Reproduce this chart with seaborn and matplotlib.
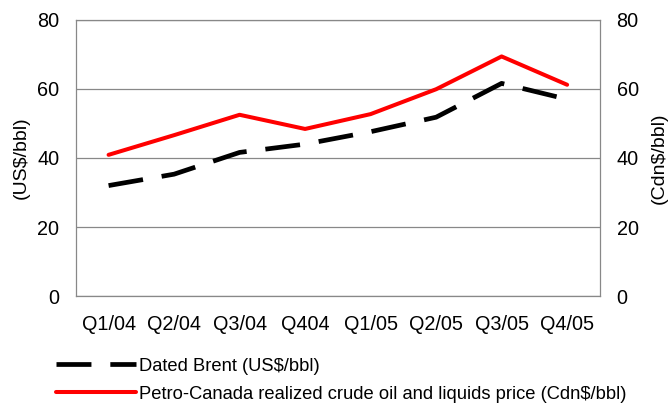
import matplotlib
matplotlib.use("Agg")
import matplotlib.pyplot as plt
import seaborn as sns
import pandas as pd

quarters = ["Q1/04", "Q2/04", "Q3/04", "Q404", "Q1/05", "Q2/05", "Q3/05", "Q4/05"]
brent = [32.0, 35.3, 41.6, 44.0, 47.6, 51.8, 61.6, 57.0]
petro = [40.9, 46.6, 52.5, 48.4, 52.7, 59.9, 69.4, 61.2]
brent_label = "Dated Brent (US$/bbl)"
petro_label = "Petro-Canada realized crude oil and liquids price (Cdn$/bbl)"

sns.set_theme(style="white")
plt.rcParams['font.family'] = ['Liberation Sans', 'DejaVu Sans']
plt.rcParams['text.color'] = 'black'
plt.rcParams['axes.labelcolor'] = 'black'

df = pd.DataFrame({"q": quarters, "x": range(len(quarters)), "brent": brent, "petro": petro})

fig = plt.figure(figsize=(6.71, 4.05), dpi=100)
ax = fig.add_axes([0.113, 0.269, 0.781, 0.682])

sns.lineplot(data=df, x="x", y="brent", ax=ax, color="black", linewidth=3.4,
             label=brent_label)
ax.lines[-1].set_dashes([7.4, 4.0])
sns.lineplot(data=df, x="x", y="petro", ax=ax, color="#ff0000", linewidth=2.9,
             label=petro_label)

ax.set_xlim(-0.5, len(quarters) - 0.5)
ax.set_ylim(0, 80)
ax.set_yticks([0, 20, 40, 60, 80])
ax.set_xticks(range(len(quarters)))
ax.set_xticklabels(quarters)
ax.tick_params(axis="both", labelsize=14.3, length=0, colors="black")
ax.tick_params(axis="x", pad=14)
ax.tick_params(axis="y", pad=12)
ax.set_xlabel("")
ax.set_ylabel("(US$/bbl)", fontsize=14, labelpad=5, color="black")
ax.yaxis.grid(True, color="#888888", linewidth=0.9)
for s in ax.spines.values():
    s.set_color("#888888")
    s.set_linewidth(0.9)

ax2 = ax.twinx()
ax2.set_ylim(0, 80)
ax2.set_yticks([0, 20, 40, 60, 80])
ax2.tick_params(axis="y", labelsize=14.3, length=0, pad=12, colors="black")
ax2.set_ylabel("(Cdn$/bbl)", fontsize=14, labelpad=9, color="black")
for s in ax2.spines.values():
    s.set_visible(False)

handles, labels = ax.get_legend_handles_labels()
ax.get_legend().remove()
fig.legend(handles, labels, loc="lower left", bbox_to_anchor=(0.064, -0.026),
           frameon=False, fontsize=13.2, handlelength=4.4, handletextpad=0.15,
           labelspacing=0.6, borderpad=0.2, labelcolor="black")

fig.savefig("out.png", dpi=100)
